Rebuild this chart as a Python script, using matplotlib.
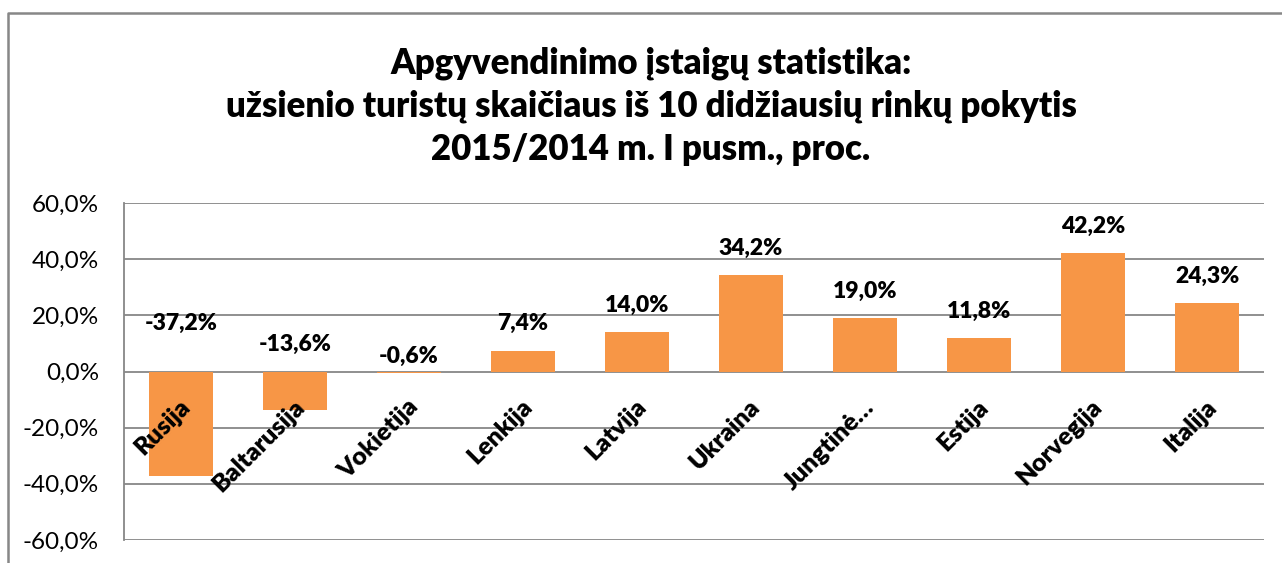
import matplotlib.pyplot as plt
from matplotlib.lines import Line2D

# Data
countries = ["Rusija", "Baltarusija", "Vokietija", "Lenkija", "Latvija",
             "Ukraina", "Jungtinė…", "Estija", "Norvegija", "Italija"]
changes = [-37.2, -13.6, -0.6, 7.4, 14.0, 34.2, 19.0, 11.8, 42.2, 24.3]
y_ticks = [-60, -40, -20, 0, 20, 40, 60]

title = ("Apgyvendinimo įstaigų statistika:\n"
         "užsienio turistų skaičiaus iš 10 didžiausių rinkų pokytis\n"
         "2015/2014 m. I pusm., proc.")

FONT = ["Lato", "DejaVu Sans"]
plt.rcParams["font.family"] = FONT
GRID = "#878787"
BAR = "#F79646"

fig = plt.figure(figsize=(12.82, 5.63), dpi=100)
ax = fig.add_axes([124 / 1282, 23 / 563, (1264 - 124) / 1282, (540 - 203) / 563])

x = list(range(len(countries)))
ax.bar(x, changes, width=0.57, color=BAR, zorder=3)

ax.set_xlim(-0.5, len(countries) - 0.5)
ax.set_ylim(-60, 60)
ax.set_yticks(y_ticks)
ax.set_yticklabels([f"{v:.1f}%".replace(".", ",") for v in y_ticks], fontsize=17.5)
ax.tick_params(axis="y", length=0, pad=18)
ax.tick_params(axis="x", length=0, labelbottom=False)
ax.yaxis.grid(True, color=GRID, linewidth=1.3, zorder=0)
for side in ["top", "right", "bottom"]:
    ax.spines[side].set_visible(False)
ax.spines["left"].set_color(GRID)
ax.spines["left"].set_linewidth(1.3)

# data labels
for xi, v in zip(x, changes):
    if v >= 0:
        y_lab = v + 9.6
    else:
        y_lab = 5.3 + 0.32 * abs(v)
    ax.text(xi, y_lab, f"{v:.1f}%".replace(".", ","), ha="center", va="center",
            fontsize=16.5, fontweight="heavy", zorder=5)

# category labels, rotated, just below the zero line
for xi, name in zip(x, countries):
    ax.annotate(name, xy=(xi + 0.05, 0), xytext=(0, -32), textcoords="offset pixels",
                ha="right", va="center", rotation=45, rotation_mode="anchor",
                fontsize=18, fontweight="heavy", zorder=6)

fig.text(651 / 1282, 1 - 106 / 563, title, ha="center", va="center",
         fontsize=25, fontweight="heavy", linespacing=1.36)

# chart frame (top and left edge)
fig.add_artist(Line2D([7.5 / 1282, 7.5 / 1282, 1.0], [0, 1 - 12.5 / 563, 1 - 12.5 / 563],
                      transform=fig.transFigure, color=GRID, linewidth=1.8))

fig.savefig("out.png", dpi=100)
